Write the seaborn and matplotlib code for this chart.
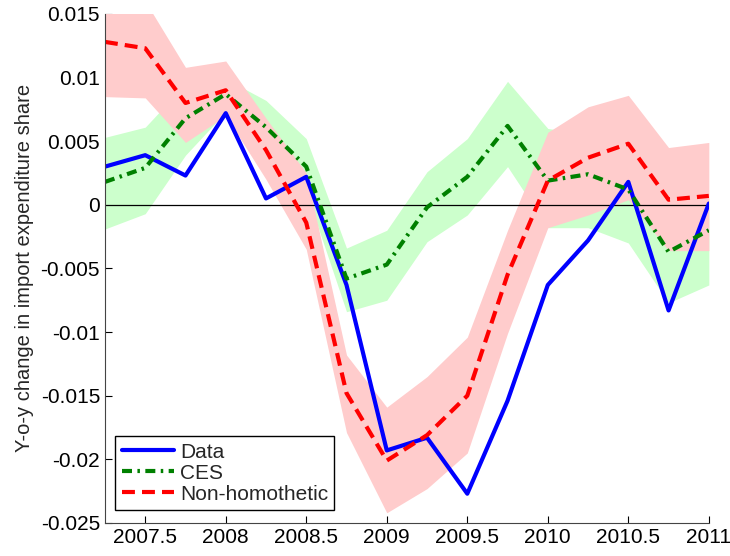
import numpy as np
import pandas as pd
import seaborn as sns
import matplotlib
import matplotlib.pyplot as plt

matplotlib.use('Agg')
sns.set_style("ticks")
plt.rcParams['font.family'] = ['Liberation Sans', 'DejaVu Sans']
plt.rcParams['axes.unicode_minus'] = False

# quarterly dates
quarters = [2007.25, 2007.5, 2007.75, 2008.0, 2008.25, 2008.5, 2008.75, 2009.0,
            2009.25, 2009.5, 2009.75, 2010.0, 2010.25, 2010.5, 2010.75, 2011.0]

data = [0.0030, 0.0039, 0.0023, 0.0072, 0.0005, 0.0022, -0.0063, -0.0193,
        -0.0183, -0.0227, -0.0154, -0.0063, -0.0028, 0.0018, -0.0083, 0.0001]

ces = [0.0018, 0.0029, 0.0068, 0.0087, 0.0061, 0.0030, -0.0058, -0.0047,
       -0.0002, 0.0022, 0.0062, 0.0019, 0.0024, 0.0012, -0.0037, -0.0020]
ces_hi = [0.0053, 0.0061, 0.0095, 0.0099, 0.0082, 0.0052, -0.0034, -0.0020,
          0.0026, 0.0052, 0.0097, 0.0060, 0.0055, 0.0040, 0.0000, 0.0005]
ces_lo = [-0.0019, -0.0007, 0.0039, 0.0073, 0.0040, 0.0010, -0.0084, -0.0075,
          -0.0029, -0.0008, 0.0030, -0.0018, -0.0018, -0.0030, -0.0077, -0.0063]

nonhom = [0.0128, 0.0123, 0.0080, 0.0090, 0.0043, -0.0014, -0.0148, -0.0201,
          -0.0181, -0.0150, -0.0055, 0.0019, 0.0037, 0.0048, 0.0004, 0.0007]
nonhom_hi = [0.0160, 0.0160, 0.0108, 0.0113, 0.0068, 0.0025, -0.0118, -0.0159,
             -0.0135, -0.0104, -0.0020, 0.0057, 0.0077, 0.0086, 0.0045, 0.0049]
nonhom_lo = [0.0085, 0.0084, 0.0049, 0.0070, 0.0020, -0.0035, -0.0179, -0.0242,
             -0.0223, -0.0195, -0.0101, -0.0018, -0.0008, 0.0004, -0.0036, -0.0036]

xticks = [2007.5, 2008, 2008.5, 2009, 2009.5, 2010, 2010.5, 2011]
xticklabels = ['2007.5', '2008', '2008.5', '2009', '2009.5', '2010', '2010.5', '2011']
yticks = [-0.025, -0.02, -0.015, -0.01, -0.005, 0, 0.005, 0.01, 0.015]
yticklabels = ['-0.025', '-0.02', '-0.015', '-0.01', '-0.005', '0', '0.005', '0.01', '0.015']

fig = plt.figure(figsize=(7.3, 5.56), dpi=100)
ax = fig.add_axes([0.1438, 0.0594, 0.8272, 0.9156])

# confidence bands (green under pink)
ax.fill_between(quarters, ces_lo, ces_hi, color=(0.8, 1, 0.8), lw=0)
ax.fill_between(quarters, nonhom_lo, nonhom_hi, color=(1, 0.8, 0.8), lw=0)
ax.axhline(0, color='black', lw=0.9)

sns.lineplot(x=quarters, y=data, color=(0, 0, 1), lw=3, ax=ax, label='Data')
sns.lineplot(x=quarters, y=ces, color=(0, 0.5, 0), lw=3, ax=ax, label='CES',
             dashes=False)
sns.lineplot(x=quarters, y=nonhom, color=(1, 0, 0), lw=3, ax=ax,
             label='Non-homothetic')
ax.lines[-2].set_dashes((2.4, 1.3, 0.6, 1.3))
ax.lines[-1].set_dashes((3.1, 1.7))

ax.set_xlim(2007.25, 2011)
ax.set_ylim(-0.025, 0.015)
ax.set_xticks(xticks)
ax.set_xticklabels(xticklabels)
ax.set_yticks(yticks)
ax.set_yticklabels(yticklabels)
ax.tick_params(direction='in', length=5, width=0.8, labelsize=15, colors='black')
ax.set_ylabel('Y-o-y change in import expenditure share', fontsize=14.5,
              labelpad=5)
for s in ['top', 'right']:
    ax.spines[s].set_visible(False)
for s in ['left', 'bottom']:
    ax.spines[s].set_color('#444444')
    ax.spines[s].set_linewidth(0.8)

leg = ax.legend(loc='lower left', fontsize=15, handlelength=2.5, frameon=True,
                fancybox=False, edgecolor='black', framealpha=1,
                borderpad=0.3, labelspacing=0.1, handletextpad=0.3,
                bbox_to_anchor=(0.0, 0.005))
leg.get_frame().set_linewidth(1.0)

plt.savefig('out.png', dpi=100)
